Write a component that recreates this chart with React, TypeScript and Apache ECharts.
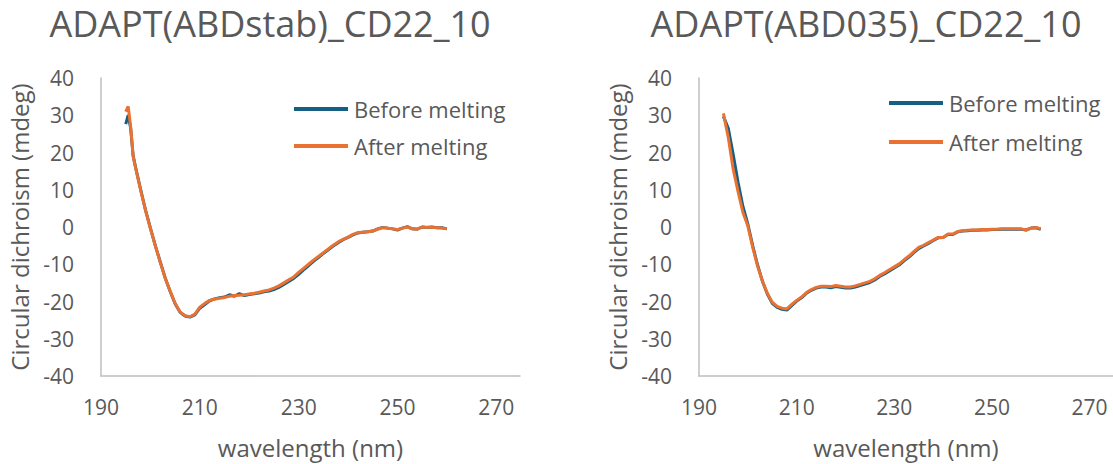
import React, { useEffect, useRef } from "react";
import * as echarts from "echarts";

const titles = ["ADAPT(ABDstab)_CD22_10", "ADAPT(ABD035)_CD22_10"];
const seriesNames = ["Before melting", "After melting"];
const xTicks = [190, 210, 230, 250, 270];

const wavelengthsLeft = [
  195, 195.5, 196, 196.5, 197, 198, 199, 200, 201, 202, 203, 204, 205, 206, 207, 208, 209, 210,
  211, 212, 213, 214, 215, 216, 217, 218, 219, 220, 221, 222, 223, 224, 225, 226, 227, 228, 229,
  230, 231, 232, 233, 234, 235, 236, 237, 238, 239, 240, 241, 242, 243, 244, 245, 246, 247, 248,
  249, 250, 251, 252, 253, 254, 255, 256, 257, 258, 259, 260,
];
const beforeLeft = [
  27.6, 30.0, 26.5, 19.2, 16.0, 10.2, 4.6, -0.3, -5.0, -9.4, -13.7, -17.3, -20.6, -22.9, -23.9, -24.2,
  -23.6, -21.8, -20.8, -19.8, -19.3, -19.0, -18.8, -18.2, -18.6, -17.9, -18.4, -18.1, -17.9, -17.7,
  -17.4, -17.2, -16.8, -16.2, -15.4, -14.6, -13.8, -12.7, -11.5, -10.4, -9.2, -8.2, -7.1, -6.1, -5.1,
  -4.2, -3.4, -2.8, -2.1, -1.6, -1.4, -1.3, -1.1, -0.5, -0.1, -0.3, -0.5, -0.8, -0.3, 0.1, -0.5, -0.6,
  0.0, -0.1, 0.0, -0.2, -0.2, -0.5,
];
const afterLeft = [
  31.0, 32.4, 27.0, 19.0, 15.9, 10.0, 4.5, -0.4, -5.1, -9.5, -13.8, -17.2, -20.5, -22.8, -23.8, -24.1,
  -23.4, -21.5, -20.5, -19.7, -19.4, -19.1, -18.9, -18.6, -18.4, -18.3, -18.2, -18.0, -17.8, -17.5,
  -17.2, -16.9, -16.4, -15.8, -15.0, -14.2, -13.4, -12.2, -11.1, -10.0, -8.9, -7.9, -6.9, -5.9, -4.9,
  -4.0, -3.3, -2.7, -2.0, -1.5, -1.4, -1.3, -1.1, -0.6, -0.2, -0.3, -0.5, -0.7, -0.3, 0.0, -0.5, -0.6,
  0.0, -0.1, -0.1, -0.2, -0.3, -0.5,
];

const wavelengthsRight = [
  195, 196, 197, 198, 199, 200, 201, 202, 203, 204, 205, 206, 207, 208, 209, 210, 211, 212, 213, 214,
  215, 216, 217, 218, 219, 220, 221, 222, 223, 224, 225, 226, 227, 228, 229, 230, 231, 232, 233, 234,
  235, 236, 237, 238, 239, 240, 241, 242, 243, 244, 245, 246, 247, 248, 249, 250, 251, 252, 253, 254,
  255, 256, 257, 258, 259, 260,
];
const beforeRight = [
  29.7, 26.5, 19.5, 12.0, 5.5, 0.8, -5.0, -10.2, -14.6, -18.0, -20.5, -21.6, -22.1, -22.3, -21.1, -19.9,
  -19.0, -17.8, -17.0, -16.4, -16.1, -16.1, -16.3, -16.0, -16.2, -16.4, -16.4, -16.1, -15.7, -15.3,
  -14.9, -14.2, -13.3, -12.6, -11.8, -11.0, -10.2, -9.1, -8.1, -6.9, -5.8, -5.1, -4.4, -3.6, -2.9, -2.8,
  -2.0, -2.0, -1.3, -1.1, -1.0, -0.9, -0.9, -0.8, -0.8, -0.7, -0.7, -0.6, -0.6, -0.6, -0.6, -0.6, -0.8,
  -0.3, -0.2, -0.6,
];
const afterRight = [
  30.5, 24.0, 15.5, 9.5, 3.9, 0.3, -5.5, -10.5, -14.6, -17.8, -20.2, -21.3, -21.8, -22.0, -20.8, -19.7,
  -18.8, -17.6, -16.8, -16.2, -15.9, -15.9, -16.0, -15.7, -15.9, -16.1, -16.1, -15.8, -15.4, -15.0,
  -14.6, -13.9, -13.0, -12.3, -11.5, -10.7, -9.9, -8.8, -7.8, -6.6, -5.5, -4.9, -4.2, -3.5, -2.8, -2.8,
  -1.9, -1.9, -1.2, -1.0, -0.9, -0.8, -0.8, -0.7, -0.7, -0.6, -0.6, -0.5, -0.5, -0.5, -0.5, -0.5, -0.8,
  -0.3, -0.1, -0.5,
];

const COLORS = ["#156082", "#E97132"];
const FONT = "'Open Sans', 'Noto Sans', sans-serif";
const TEXT = "#595959";

const pairs = (xs: number[], ys: number[]) => xs.map((x, i) => [x, ys[i]]);

export default function App() {
  const ref = useRef<HTMLDivElement>(null);
  useEffect(() => {
    if (!ref.current) return;
    const chart = echarts.init(ref.current, undefined, { renderer: "svg" });
    const grids = [
      { left: 101, top: 78, width: 419, height: 300 },
      { left: 699, top: 78, width: 414, height: 300 },
    ];
    const xAxis = grids.map((_, i) => ({
      type: "value",
      gridIndex: i,
      min: xTicks[0],
      max: 274.8,
      interval: 20,
      name: "wavelength (nm)",
      nameLocation: "middle",
      nameGap: 59,
      nameTextStyle: { color: TEXT, fontSize: 24, fontFamily: FONT },
      axisLine: { show: true, onZero: false, lineStyle: { color: "#BFBFBF", width: 1.5 } },
      axisTick: { show: false },
      splitLine: { show: false },
      axisLabel: {
        color: TEXT,
        fontSize: 21,
        fontFamily: FONT,
        margin: 20,
        showMaxLabel: false,
        formatter: (v: number) => (xTicks.includes(v) ? String(v) : ""),
      },
    }));
    const yAxis = grids.map((_, i) => ({
      type: "value",
      gridIndex: i,
      min: -40,
      max: 40,
      interval: 10,
      name: "Circular dichroism (mdeg)",
      nameLocation: "middle",
      nameGap: 70,
      nameTextStyle: { color: TEXT, fontSize: 24, fontFamily: FONT },
      axisLine: { show: true, onZero: false, lineStyle: { color: "#BFBFBF", width: 1.5 } },
      axisTick: { show: false },
      splitLine: { show: false },
      axisLabel: { color: TEXT, fontSize: 21, fontFamily: FONT, margin: 27 },
    }));
    const data = [
      [pairs(wavelengthsLeft, beforeLeft), pairs(wavelengthsLeft, afterLeft)],
      [pairs(wavelengthsRight, beforeRight), pairs(wavelengthsRight, afterRight)],
    ];
    const series: any[] = [];
    data.forEach((pair, gi) => {
      pair.forEach((d, si) => {
        series.push({
          type: "line",
          name: seriesNames[si],
          xAxisIndex: gi,
          yAxisIndex: gi,
          data: d,
          showSymbol: false,
          symbol: "none",
          lineStyle: { color: COLORS[si], width: 3 },
          itemStyle: { color: COLORS[si] },
        });
      });
    });
    const legendBase = {
      orient: "vertical",
      icon: "rect",
      itemWidth: 54,
      itemHeight: 4,
      padding: 0,
      data: seriesNames,
      selectedMode: false,
      textStyle: { color: TEXT, fontSize: 22, fontFamily: FONT, padding: [0, 0, 0, 1] },
    };
    chart.setOption({
      animation: false,
      grid: grids,
      title: [
        {
          text: titles[0],
          left: 270,
          top: 5,
          padding: 0,
          textAlign: "center",
          textStyle: { color: TEXT, fontSize: 36, fontWeight: "normal", fontFamily: FONT },
        },
        {
          text: titles[1],
          left: 866,
          top: 5,
          padding: 0,
          textAlign: "center",
          textStyle: { color: TEXT, fontSize: 36, fontWeight: "normal", fontFamily: FONT },
        },
      ],
      legend: [
        { ...legendBase, left: 294, top: 98, itemGap: 15 },
        { ...legendBase, left: 889, top: 92, itemGap: 17 },
      ],
      xAxis,
      yAxis,
      series,
    });
    return () => chart.dispose();
  }, []);
  return (
    <div
      ref={ref}
      style={{ position: "fixed", left: 0, top: 0, width: 1113, height: 464, background: "#fff" }}
    />
  );
}
